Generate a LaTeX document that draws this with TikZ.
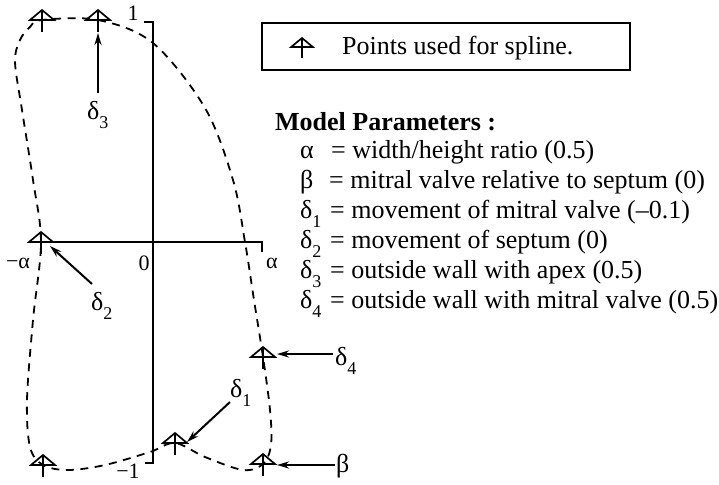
\documentclass[tikz,border=0pt]{standalone}
\usepackage{fontspec}
\setmainfont{Liberation Serif}
\usetikzlibrary{arrows.meta,calc}
\newcommand\dsub[2]{#1\raisebox{-9pt}{\fontsize{18}{18}\selectfont #2}}
\begin{document}
\begin{tikzpicture}[x=1pt,y=-1pt,
  ax/.style={line width=2.2pt},
  arr/.style={line width=2pt,-{Stealth[length=12pt,width=7pt]}},
  curve/.style={line width=1.8pt,dash pattern=on 8pt off 6.5pt},
  big/.style={font=\fontsize{26}{30}\selectfont, inner sep=0pt},
  axl/.style={font=\fontsize{22}{26}\selectfont, inner sep=0pt},
  mk/.pic={\draw[line width=1.7pt,line join=miter] (-12,0) -- (0,-10) -- (12,0) -- cycle;
           \draw[line width=1.7pt] (0,-10) -- (0,12);}
]
\fill[white] (0,0) rectangle (719,484);
\useasboundingbox (0,0) rectangle (719,484);

% spline points
\coordinate (m1) at (42,20);
\coordinate (m2) at (98,20);
\coordinate (m3) at (41,242);
\coordinate (m4) at (263,357);
\coordinate (m5) at (263,464);
\coordinate (m6) at (175,443);
\coordinate (m7) at (43,465);

% axes
\coordinate (ytop) at (153,22);
\coordinate (ybot) at (153,463);
\coordinate (xl) at (42,242);
\coordinate (xr) at (262,242);
\draw[ax] ($(ytop)+(-9,0)$) -- (ytop) -- (ybot) -- ($(ybot)+(-8,0)$);
\draw[ax] (xl) -- (xr) -- ($(xr)+(0,10)$);

\node[axl] (l1) at (133,13) {1};
\node[axl] (l0) at (144,263) {0};
\node[axl] (lma) at (18,263) {−α};
\node[axl] (la) at (272,263) {α};
\node[axl] (lm1) at (128,471) {−1};

% dashed outline
\draw[curve] plot[smooth cycle, tension=0.55] coordinates {
  (42,20) (98,20) (153,43) (205,108) (233,180) (245,242) (254,300) (263,357)
  (270,410) (271,445) (263,464) (243,470) (205,457) (175,443) (150,452)
  (105,465) (68,470) (43,465) (30,447) (27,400) (33,320) (41,242) (33,180)
  (22,110) (15,62) (20,40) (30,27)};

% markers
\foreach \m in {m1,m2,m3,m4,m5,m6,m7} \pic at (\m) {mk};

% labels and arrows
\node[big, anchor=base west] (d3) at (87,120) {\dsub{δ}{3}};
\node[big, anchor=base west] (d2) at (91,310) {\dsub{δ}{2}};
\node[big, anchor=base west] (d4) at (335,365) {\dsub{δ}{4}};
\node[big, anchor=base west] (d1) at (230,397) {\dsub{δ}{1}};
\node[big, anchor=base west] (bt) at (336,472) {β};

\coordinate (s3) at (98,93);   \coordinate (t3) at ($(m2)+(0,13)$);
\coordinate (s2) at (92,284);  \coordinate (t2) at (50,246);
\coordinate (s4) at (333,354); \coordinate (t4) at ($(m4)+(14,-3)$);
\coordinate (s1) at (230,402); \coordinate (t1) at ($(m6)+(12,-1)$);
\coordinate (sb) at (335,465); \coordinate (tb) at ($(m5)+(14,1)$);
\draw[arr] (s3) -- (t3);
\draw[arr] (s2) -- (t2);
\draw[arr] (s4) -- (t4);
\draw[arr] (s1) -- (t1);
\draw[arr] (sb) -- (tb);

% legend
\node[draw, line width=1.6pt, minimum width=368pt, minimum height=47pt, inner sep=0pt] (legend) at (446,46.5) {};
\pic[scale=0.9] at (302,47) {mk};
\node[big, anchor=base west] (legtext) at (342,55) {Points used for spline.};

% parameters
\node[big, anchor=base west] (title) at (275,130) {\bfseries Model Parameters :};
\node[big, anchor=base west] (ps1) at (300,158) {α};
\node[big, anchor=base west] (pt1) at (331,158) {= width/height ratio (0.5)};
\node[big, anchor=base west] (ps2) at (300,188) {β};
\node[big, anchor=base west] (pt2) at (329,188) {= mitral valve relative to septum (0)};
\node[big, anchor=base west] (ps3) at (300,218) {\dsub{δ}{1}};
\node[big, anchor=base west] (pt3) at (330,218) {= movement of mitral valve (–0.1)};
\node[big, anchor=base west] (ps4) at (300,248) {\dsub{δ}{2}};
\node[big, anchor=base west] (pt4) at (330,248) {= movement of septum (0)};
\node[big, anchor=base west] (ps5) at (300,278) {\dsub{δ}{3}};
\node[big, anchor=base west] (pt5) at (330,278) {= outside wall with apex (0.5)};
\node[big, anchor=base west] (ps6) at (300,308) {\dsub{δ}{4}};
\node[big, anchor=base west] (pt6) at (330,308) {= outside wall with mitral valve (0.5)};
\end{tikzpicture}
\end{document}
